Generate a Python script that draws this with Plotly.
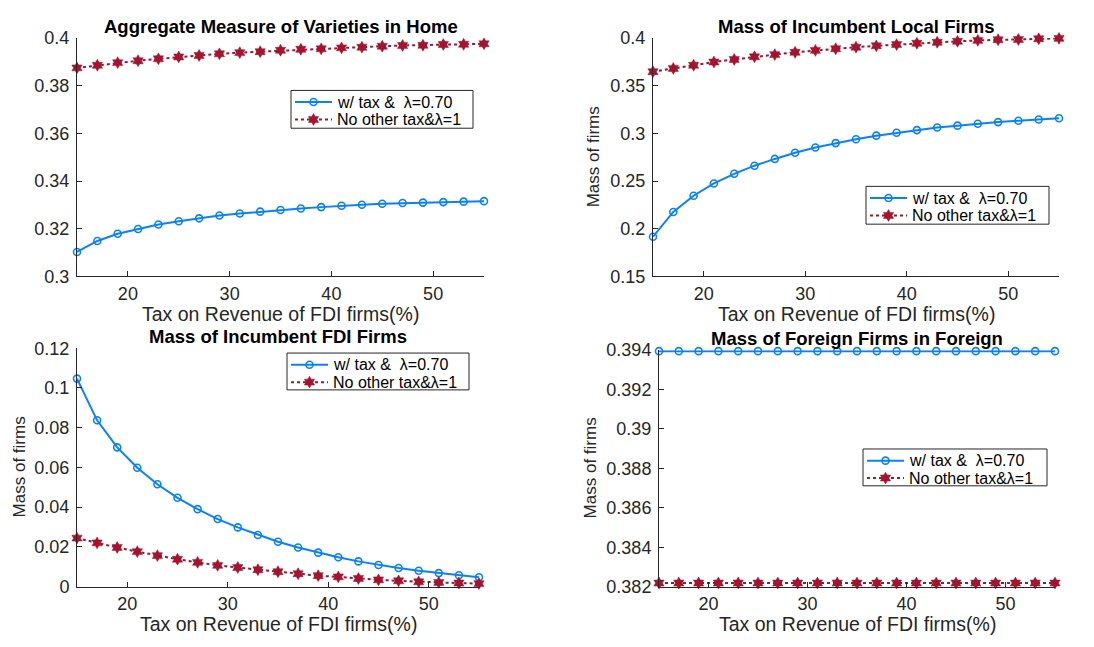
import plotly.graph_objects as go

W, H = 1094, 647

tax = [15, 17, 19, 21, 23, 25, 27, 29, 31, 33, 35, 37, 39, 41, 43, 45, 47, 49, 51, 53, 55]

# Panel 1: Aggregate Measure of Varieties in Home
agg_tax = [0.3103, 0.3149, 0.3179, 0.3199, 0.3218, 0.3232, 0.3244, 0.3256, 0.3264, 0.3272, 0.3279,
           0.3285, 0.3291, 0.3297, 0.3301, 0.3305, 0.3308, 0.3310, 0.3312, 0.3314, 0.3316]
agg_base = [0.3875, 0.3886, 0.3897, 0.3905, 0.3913, 0.3921, 0.3927, 0.3934, 0.3939, 0.3943, 0.3949,
            0.3953, 0.3955, 0.3959, 0.3962, 0.3966, 0.3969, 0.3970, 0.3973, 0.3974, 0.3976]

# Panel 2: Mass of Incumbent Local Firms
loc_tax = [0.1917, 0.2177, 0.2347, 0.2476, 0.2577, 0.2662, 0.2733, 0.2797, 0.2852, 0.2899, 0.2940,
           0.2977, 0.3007, 0.3035, 0.3062, 0.3082, 0.3102, 0.3119, 0.3133, 0.3146, 0.3160]
loc_base = [0.3648, 0.3682, 0.3715, 0.3749, 0.3776, 0.3804, 0.3827, 0.3851, 0.3871, 0.3888, 0.3905,
            0.3919, 0.3932, 0.3946, 0.3956, 0.3966, 0.3976, 0.3983, 0.3986, 0.3993, 0.3997]

# Panel 3: Mass of Incumbent FDI Firms
fdi_tax = [0.1047, 0.0837, 0.0701, 0.0598, 0.0515, 0.0447, 0.0390, 0.0340, 0.0298, 0.0260, 0.0226,
           0.0197, 0.0171, 0.0148, 0.0127, 0.0109, 0.0094, 0.0080, 0.0068, 0.0057, 0.0047]
fdi_base = [0.0244, 0.0220, 0.0197, 0.0176, 0.0156, 0.0138, 0.0122, 0.0107, 0.0096, 0.0085, 0.0075,
            0.0065, 0.0055, 0.0049, 0.0041, 0.0034, 0.0029, 0.0024, 0.0021, 0.0018, 0.0015]

# Panel 4: Mass of Foreign Firms in Foreign
for_tax = [0.39395] * 21
for_base = [0.38218] * 21

titles = ["Aggregate Measure of Varieties in Home", "Mass of Incumbent Local Firms",
          "Mass of Incumbent FDI Firms", "Mass of Foreign Firms in Foreign"]
x_title = "Tax on Revenue of FDI firms(%)"
y_title = "Mass of firms"
name_tax = "w/ tax &\u00a0\u00a0λ=0.70"
name_base = "No other tax&λ=1"

x_ticks = [20, 30, 40, 50]
y_ticks = [
    [0.3, 0.32, 0.34, 0.36, 0.38, 0.4],
    [0.15, 0.2, 0.25, 0.3, 0.35, 0.4],
    [0, 0.02, 0.04, 0.06, 0.08, 0.1, 0.12],
    [0.382, 0.384, 0.386, 0.388, 0.39, 0.392, 0.394],
]
y_tick_text = [
    ["0.3", "0.32", "0.34", "0.36", "0.38", "0.4"],
    ["0.15", "0.2", "0.25", "0.3", "0.35", "0.4"],
    ["0", "0.02", "0.04", "0.06", "0.08", "0.1", "0.12"],
    ["0.382", "0.384", "0.386", "0.388", "0.39", "0.392", "0.394"],
]
y_ranges = [[0.3, 0.4], [0.15, 0.4], [0, 0.12], [0.382, 0.394]]

# plot-area boxes in pixels: (left, right, top, bottom)
boxes = [(77, 484, 29, 275), (653, 1059, 29, 275), (77, 479, 349, 595), (659, 1055, 351, 595)]
# legend boxes in pixels: (left, top, width, height)
legend_boxes = [(291, 83, 182, 39), (866, 182, 183, 39), (287, 354, 182, 38), (863, 453, 184, 38)]
ytitle_x = [None, 593, 19, 590]

BLUE = "#0b80ff"
RED = "#a2142f"
AX = "#262626"
FONT = "Liberation Sans, Arial, sans-serif"

blue_line = dict(color=BLUE, width=2)
blue_marker = dict(symbol="circle-open", size=7, color=BLUE, line=dict(width=1.6, color=BLUE))
red_line = dict(color=RED, width=2, dash="dot")
red_marker = dict(symbol="hexagram", size=9, color=RED, line=dict(width=0.5, color=RED))

series = [(agg_tax, agg_base), (loc_tax, loc_base), (fdi_tax, fdi_base), (for_tax, for_base)]

fig = go.Figure()
annotations = []
shapes = []
for i, (ys_tax, ys_base) in enumerate(series):
    k = "" if i == 0 else str(i + 1)
    fig.add_trace(go.Scatter(
        x=tax, y=ys_tax, mode="lines+markers", name=name_tax, showlegend=False,
        xaxis="x" + k, yaxis="y" + k, cliponaxis=False, line=blue_line, marker=blue_marker))
    fig.add_trace(go.Scatter(
        x=tax, y=ys_base, mode="lines+markers", name=name_base, showlegend=False,
        xaxis="x" + k, yaxis="y" + k, cliponaxis=False, line=red_line, marker=red_marker))
    l, r, t, b = boxes[i]
    xd = [l / W, r / W]
    yd = [1 - b / H, 1 - t / H]
    axcommon = dict(showline=True, linecolor=AX, linewidth=1, ticks="inside", ticklen=5,
                    tickcolor=AX, tickwidth=1, showgrid=False, zeroline=False,
                    tickfont=dict(family=FONT, size=18, color=AX))
    fig.update_layout(**{
        "xaxis" + k: dict(domain=xd, range=[15, 55], tickvals=x_ticks,
                          anchor="y" + k, ticklabelstandoff=1, **axcommon),
        "yaxis" + k: dict(domain=yd, range=y_ranges[i], tickvals=y_ticks[i],
                          ticktext=y_tick_text[i], anchor="x" + k, ticklabelstandoff=3, **axcommon),
    })
    cx = (l + r) / 2
    annotations.append(dict(text="<b>" + titles[i] + "</b>", x=cx / W, y=1 - (t - 12) / H,
                            xref="paper", yref="paper", showarrow=False, xanchor="center",
                            yanchor="middle", font=dict(family=FONT, size=18.5, color="black")))
    annotations.append(dict(text=x_title, x=cx / W, y=1 - (b + 39) / H,
                            xref="paper", yref="paper", showarrow=False, xanchor="center",
                            yanchor="middle", font=dict(family=FONT, size=19.5, color=AX)))
    if ytitle_x[i] is not None:
        annotations.append(dict(text=y_title, x=ytitle_x[i] / W, y=1 - ((t + b) / 2) / H,
                                xref="paper", yref="paper", showarrow=False, xanchor="center",
                                yanchor="middle", textangle=-90,
                                font=dict(family=FONT, size=17, color=AX)))

    # manual legend (box, samples, labels)
    lx, ly, lw, lh = legend_boxes[i]
    shapes.append(dict(type="rect", xref="paper", yref="paper",
                       x0=lx / W, x1=(lx + lw) / W, y0=1 - ly / H, y1=1 - (ly + lh) / H,
                       line=dict(color=AX, width=1), fillcolor="white", layer="below"))
    for row, (nm, ln, mk) in enumerate([(name_tax, blue_line, blue_marker),
                                         (name_base, red_line, red_marker)]):
        ry = ly + 12 + row * 18
        sx0, sx1 = lx + 4, lx + 41
        fig.add_trace(go.Scatter(x=[sx0, sx1], y=[ry, ry], mode="lines", line=ln,
                                 showlegend=False, hoverinfo="skip", xaxis="x5", yaxis="y5",
                                 cliponaxis=False))
        fig.add_trace(go.Scatter(x=[(sx0 + sx1) / 2], y=[ry], mode="markers", marker=mk,
                                 showlegend=False, hoverinfo="skip", xaxis="x5", yaxis="y5",
                                 cliponaxis=False))
        annotations.append(dict(text=nm, x=(lx + 44) / W, y=1 - ry / H, xref="paper", yref="paper",
                                showarrow=False, xanchor="left", yanchor="middle",
                                font=dict(family=FONT, size=16, color="black")))

# invisible full-page pixel axes used only for the hand-drawn legend samples
fig.update_layout(
    xaxis5=dict(domain=[0, 1], range=[0, W], visible=False, anchor="y5", fixedrange=True),
    yaxis5=dict(domain=[0, 1], range=[H, 0], visible=False, anchor="x5", fixedrange=True),
)

fig.update_layout(width=W, height=H, margin=dict(l=0, r=0, t=0, b=0),
                  paper_bgcolor="white", plot_bgcolor="rgba(0,0,0,0)",
                  annotations=annotations, shapes=shapes, showlegend=False)

fig.write_html("out.html")
